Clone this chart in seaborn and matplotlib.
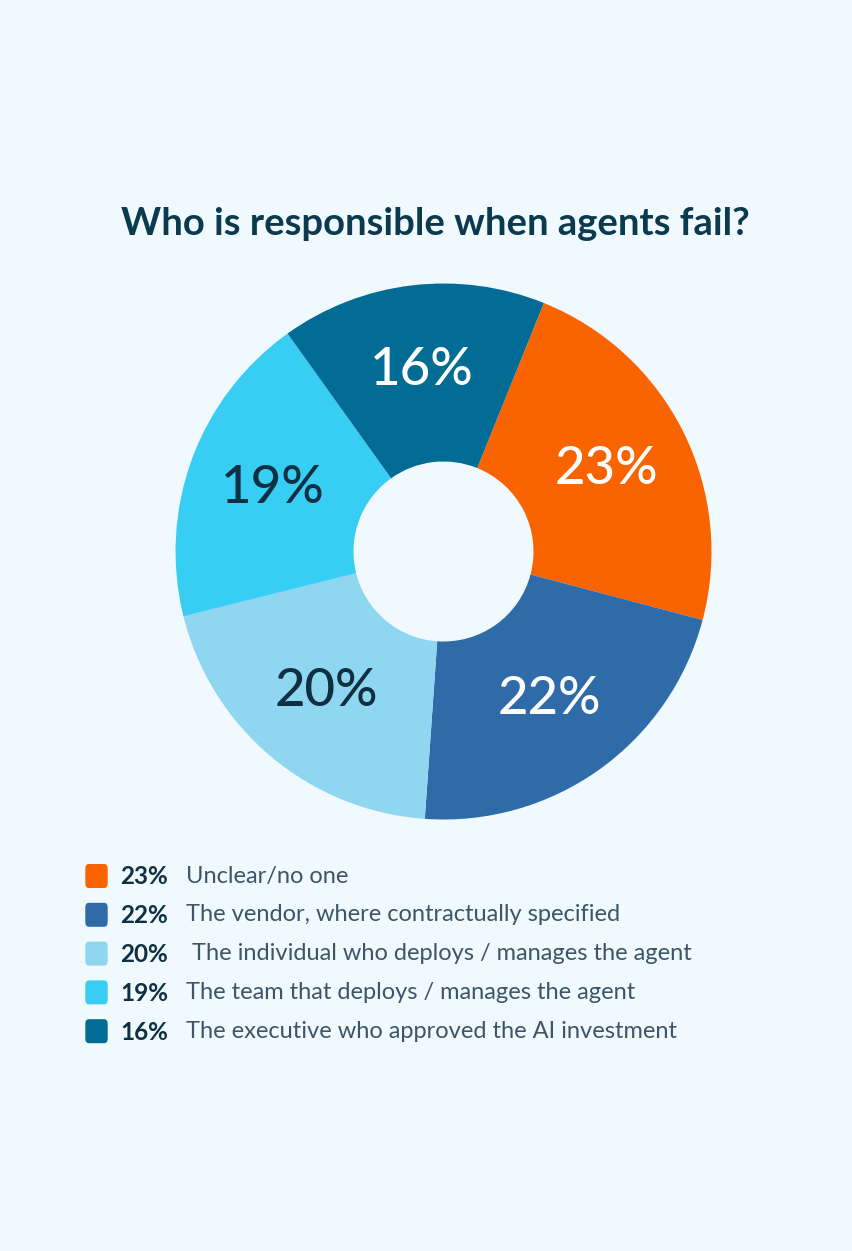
import numpy as np
import seaborn as sns
import matplotlib.pyplot as plt
from matplotlib.patches import FancyBboxPatch

# data
categories = [
    "Unclear/no one",
    "The vendor, where contractually specified",
    " The individual who deploys / manages the agent",
    "The team that deploys / manages the agent",
    "The executive who approved the AI investment",
]
shares = [23, 22, 20, 19, 16]
colors = ["#F96300", "#2F6BA8", "#8FD6F0", "#38CDF3", "#036C95"]
label_colors = ["white", "white", "#0F2F42", "#0F2F42", "white"]
title = "Who is responsible when agents fail?"

bg = "#F0FAFE"
sns.set_theme(style="white")
plt.rcParams["font.family"] = ["Lato", "DejaVu Sans"]

W, H = 852, 1251
fig = plt.figure(figsize=(W / 100, H / 100), dpi=100, facecolor=bg)

# title
fig.text(435 / W, 1 - 224 / H, title, ha="center", va="center",
         fontsize=27.5, fontweight="bold", color="#0B3A4F")

# donut
cx, cy, r = 443.5, 551.5, 268
ax = fig.add_axes([(cx - r) / W, (H - cy - r) / H, 2 * r / W, 2 * r / H])
ax.set_facecolor(bg)
wedges, _ = ax.pie(shares, colors=colors, startangle=68, counterclock=False,
                   radius=1, wedgeprops=dict(width=1 - 90 / 268, linewidth=0))
mid = 0.68
for w, v, c in zip(wedges, shares, label_colors):
    ang = np.deg2rad((w.theta1 + w.theta2) / 2)
    ax.text(mid * np.cos(ang), mid * np.sin(ang), f"{v}%", ha="center", va="center",
            fontsize=38, fontweight="medium", color=c)
ax.set_xlim(-1, 1)
ax.set_ylim(-1, 1)
ax.set_aspect("equal")
ax.axis("off")

# legend
y0, dy = 876, 38.8
for i, (cat, v, col) in enumerate(zip(categories, shares, colors)):
    y = y0 + i * dy
    sq = FancyBboxPatch((87 / W, 1 - (y + 9.5) / H), 19 / W, 19 / H,
                        boxstyle="round,pad=0.002,rounding_size=0.004",
                        transform=fig.transFigure, facecolor=col, edgecolor="none")
    fig.patches.append(sq)
    fig.text(120 / W, 1 - (y + 1) / H, f"{v}%", ha="left", va="center",
             fontsize=17.5, fontweight="bold", color="#0F2F42")
    fig.text(186 / W, 1 - y / H, cat, ha="left", va="center",
             fontsize=17, color="#3D5566")

fig.savefig("out.png", dpi=100, facecolor=bg)
